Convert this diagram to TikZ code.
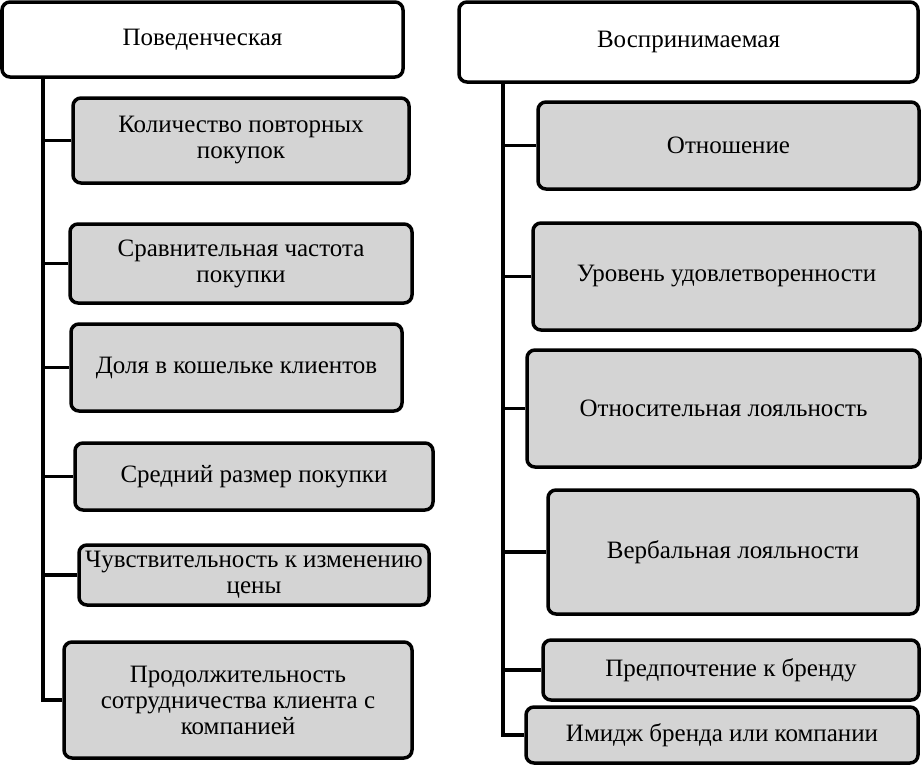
\documentclass[tikz,border=0pt]{standalone}
\usepackage{fontspec}
\setmainfont{Liberation Serif}
\definecolor{boxgray}{HTML}{D4D4D4}
\begin{document}
\begin{tikzpicture}[x=1pt,y=-1pt,
  every node/.style={font=\fontsize{25}{26}\selectfont},
  hdr/.style={draw=black, line width=3.5pt, rounded corners=8pt, fill=white, inner sep=0pt, align=center},
  item/.style={draw=black, line width=3.5pt, rounded corners=8pt, fill=boxgray, inner sep=0pt, align=center},
  link/.style={line width=3.5pt}]
\useasboundingbox (0,0) rectangle (922,766);
% left column
\node[hdr, minimum width=401, minimum height=75] (L0) at (202.5,39.5) {Поведенческая};
\node[item, minimum width=336, minimum height=85] (L1) at (241,140.5) {Количество повторных\\покупок};
\node[item, minimum width=342, minimum height=79] (L2) at (241,263.5) {Сравнительная частота\\покупки};
\node[item, minimum width=331, minimum height=87] (L3) at (236.5,367.5) {Доля в кошельке клиентов};
\node[item, minimum width=358, minimum height=67] (L4) at (254,476.5) {Средний размер покупки};
\node[item, minimum width=350, minimum height=60] (L5) at (254,575) {Чувствительность к изменению\\цены};
\node[item, minimum width=348, minimum height=116] (L6) at (238,700) {Продолжительность\\сотрудничества клиента с\\компанией};
\coordinate (LT) at (43,77);
\draw[link] (LT) |- (L6.west);
\foreach \n in {L1,L2,L3,L4,L5} \draw[link] (\n.west) -- (\n.west -| LT);
% right column
\node[hdr, minimum width=459, minimum height=80] (R0) at (688.5,42) {Воспринимаемая};
\node[item, minimum width=381, minimum height=87] (R1) at (728.5,145.5) {Отношение};
\node[item, minimum width=387, minimum height=107] (R2) at (726.5,276.5) {Уровень удовлетворенности};
\node[item, minimum width=393, minimum height=117] (R3) at (723.5,408.5) {Относительная лояльность};
\node[item, minimum width=370, minimum height=124] (R4) at (733,552) {Вербальная лояльности};
\node[item, minimum width=376, minimum height=60] (R5) at (731,670) {Предпочтение к бренду};
\node[item, minimum width=392, minimum height=56] (R6) at (722,735) {Имидж бренда или компании};
\coordinate (RT) at (503,82);
\draw[link] (RT) |- (R6.west);
\foreach \n in {R1,R2,R3,R4,R5} \draw[link] (\n.west) -- (\n.west -| RT);
\end{tikzpicture}
\end{document}
